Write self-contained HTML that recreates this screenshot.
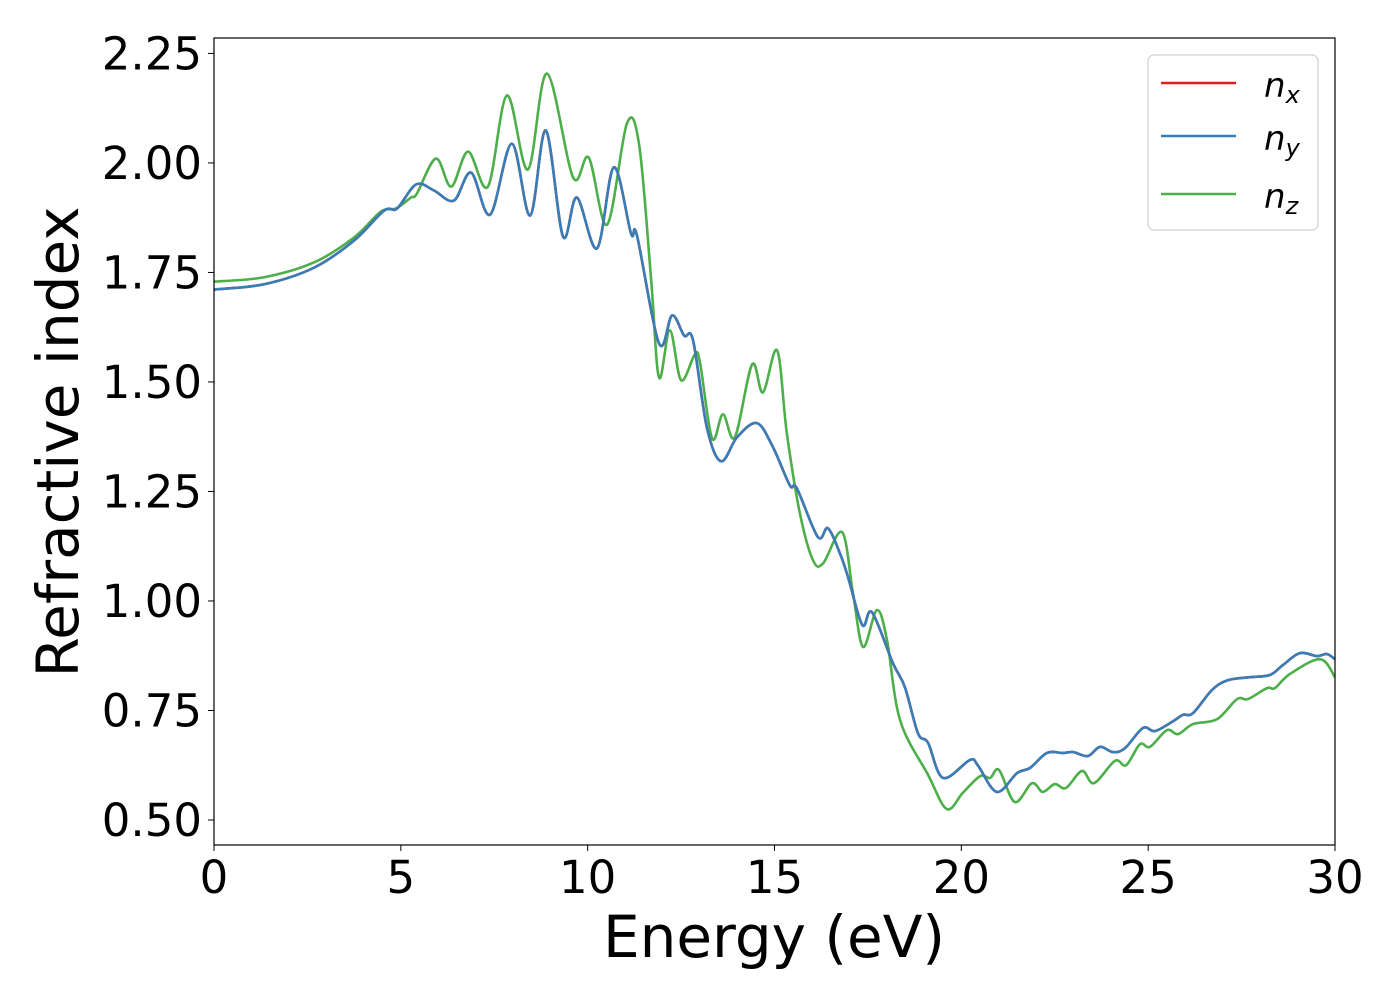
<!DOCTYPE html>
<html><head><meta charset="utf-8"><style>
body{margin:0;background:#fff;}
svg text{font-family:"DejaVu Sans","Liberation Sans",sans-serif;fill:#000;}
</style></head><body>
<svg id="chart" width="1400" height="1000" viewBox="0 0 1400 1000" xmlns="http://www.w3.org/2000/svg">
<rect x="0" y="0" width="1400" height="1000" fill="#fff"/>
<g id="series"></g>
<rect x="214" y="38" width="1121" height="807" fill="none" stroke="#000" stroke-width="1.2"/>
<g id="axes"></g>
<text x="774" y="957" font-size="58" text-anchor="middle">Energy (eV)</text>
<text x="0" y="0" font-size="58" text-anchor="middle" transform="translate(78,442) rotate(-90)">Refractive index</text>
<g>
<rect x="1148" y="55" width="170" height="175" rx="6" fill="#fff" stroke="#d0d0d0" stroke-width="1.2"/>
<line x1="1161" y1="83" x2="1236" y2="83" stroke="#e41a1c" stroke-width="2.5"/>
<text x="1264" y="97" font-size="34" font-style="italic">n<tspan font-size="24" dy="6">x</tspan></text>
<line x1="1161" y1="136" x2="1236" y2="136" stroke="#377eb8" stroke-width="2.5"/>
<text x="1264" y="150" font-size="34" font-style="italic">n<tspan font-size="24" dy="6">y</tspan></text>
<line x1="1161" y1="194" x2="1236" y2="194" stroke="#4daf4a" stroke-width="2.5"/>
<text x="1264" y="208" font-size="34" font-style="italic">n<tspan font-size="24" dy="6">z</tspan></text>
</g>
</svg>
<script>
const xTicks = [0, 5, 10, 15, 20, 25, 30];
const yTicks = [0.50, 0.75, 1.00, 1.25, 1.50, 1.75, 2.00, 2.25];
const energyY = [0,1.34,2.68,3.75,4.55,4.90,5.41,5.89,6.42,6.88,7.39,7.97,8.46,8.88,9.34,9.71,10.25,10.70,11.16,11.32,11.91,12.26,12.58,12.82,13.19,13.57,14.00,14.53,14.96,15.41,15.60,16.16,16.43,16.75,16.97,17.35,17.61,18.17,18.49,18.84,19.11,19.51,20.23,20.44,20.95,21.49,21.84,22.29,22.72,22.99,23.39,23.71,24.06,24.38,24.86,25.18,25.64,25.93,26.20,26.71,27.13,27.72,28.26,28.61,29.06,29.52,29.78,30.0];
const ny = [1.711,1.723,1.761,1.823,1.891,1.896,1.951,1.937,1.914,1.978,1.882,2.044,1.880,2.074,1.832,1.921,1.805,1.990,1.839,1.834,1.588,1.652,1.606,1.595,1.396,1.319,1.374,1.406,1.351,1.264,1.257,1.146,1.166,1.109,1.054,0.945,0.974,0.858,0.803,0.698,0.676,0.596,0.637,0.625,0.564,0.607,0.619,0.653,0.653,0.655,0.646,0.667,0.655,0.664,0.710,0.703,0.724,0.740,0.744,0.797,0.819,0.826,0.831,0.854,0.881,0.874,0.879,0.867];
const nx = ny.slice();
const energyZ = [0,1.34,2.68,3.75,4.47,4.87,5.27,5.43,5.94,6.35,6.80,7.33,7.84,8.40,8.91,9.61,10.03,10.52,11.05,11.38,11.70,11.91,12.20,12.50,12.87,13.01,13.33,13.62,13.94,14.40,14.69,15.07,15.33,15.68,16.03,16.30,16.81,17.10,17.37,17.74,18.01,18.36,19.11,19.61,20.04,20.50,20.77,21.01,21.43,21.89,22.18,22.50,22.80,23.23,23.55,24.11,24.41,24.78,25.05,25.50,25.80,26.20,26.84,27.38,27.67,28.18,28.39,28.79,29.60,30.0];
const nz = [1.729,1.739,1.773,1.830,1.889,1.896,1.921,1.930,2.010,1.946,2.026,1.946,2.154,1.985,2.204,1.967,2.012,1.859,2.090,2.040,1.732,1.510,1.618,1.504,1.563,1.542,1.371,1.426,1.374,1.540,1.476,1.572,1.383,1.200,1.093,1.086,1.157,1.018,0.895,0.979,0.911,0.728,0.603,0.525,0.562,0.600,0.596,0.614,0.541,0.584,0.564,0.582,0.573,0.612,0.584,0.635,0.625,0.673,0.667,0.705,0.696,0.719,0.730,0.776,0.776,0.801,0.801,0.833,0.867,0.826];

const NS = 'http://www.w3.org/2000/svg';
const X0 = 214, X1 = 1335, Y0 = 38, Y1 = 845;
const xMin = 0, xMax = 30, yMin = 0.4429, yMax = 2.2852;
function xs(v){ return X0 + (v - xMin) / (xMax - xMin) * (X1 - X0); }
function ys(v){ return Y1 - (v - yMin) / (yMax - yMin) * (Y1 - Y0); }

function smoothPath(xa, ya){
  const p = xa.map((x,i)=>[xs(x), ys(ya[i])]);
  let d = 'M' + p[0][0].toFixed(2) + ',' + p[0][1].toFixed(2);
  for (let i = 0; i < p.length - 1; i++){
    const p0 = p[Math.max(0,i-1)], p1 = p[i], p2 = p[i+1], p3 = p[Math.min(p.length-1,i+2)];
    const c1x = p1[0] + (p2[0]-p0[0])/6, c1y = p1[1] + (p2[1]-p0[1])/6;
    const c2x = p2[0] - (p3[0]-p1[0])/6, c2y = p2[1] - (p3[1]-p1[1])/6;
    d += ' C' + c1x.toFixed(2)+','+c1y.toFixed(2)+' '+c2x.toFixed(2)+','+c2y.toFixed(2)+' '+p2[0].toFixed(2)+','+p2[1].toFixed(2);
  }
  return d;
}

const series = document.getElementById('series');
function addLine(xa, ya, color, name){
  const path = document.createElementNS(NS, 'path');
  path.setAttribute('d', smoothPath(xa, ya));
  path.setAttribute('fill', 'none');
  path.setAttribute('stroke', color);
  path.setAttribute('stroke-width', '2.6');
  path.setAttribute('stroke-linejoin', 'round');
  
  
  series.appendChild(path);
}
const clip = document.createElementNS(NS, 'clipPath');
clip.setAttribute('id', 'plotclip');
const cr = document.createElementNS(NS, 'rect');
cr.setAttribute('x', X0); cr.setAttribute('y', Y0); cr.setAttribute('width', X1-X0); cr.setAttribute('height', Y1-Y0);
clip.appendChild(cr);
document.getElementById('chart').appendChild(clip);
series.setAttribute('clip-path', 'url(#plotclip)');
addLine(energyZ, nz, '#4daf4a', 'series-nz');
addLine(energyY, nx, '#e41a1c', 'series-nx');
addLine(energyY, ny, '#377eb8', 'series-ny');

const axes = document.getElementById('axes');
xTicks.forEach(v => {
  const t = document.createElementNS(NS, 'line');
  t.setAttribute('x1', xs(v)); t.setAttribute('x2', xs(v));
  t.setAttribute('y1', Y1); t.setAttribute('y2', Y1 + 6);
  t.setAttribute('stroke', '#000');
  
  
  axes.appendChild(t);
  const lb = document.createElementNS(NS, 'text');
  lb.setAttribute('x', xs(v)); lb.setAttribute('y', Y1 + 48);
  lb.setAttribute('font-size', '45'); lb.setAttribute('text-anchor', 'middle');
  lb.textContent = String(v);
  
  
  axes.appendChild(lb);
});
yTicks.forEach(v => {
  const t = document.createElementNS(NS, 'line');
  t.setAttribute('x1', X0 - 6); t.setAttribute('x2', X0);
  t.setAttribute('y1', ys(v)); t.setAttribute('y2', ys(v));
  t.setAttribute('stroke', '#000');
  
  
  axes.appendChild(t);
  const lb = document.createElementNS(NS, 'text');
  lb.setAttribute('x', X0 - 12); lb.setAttribute('y', ys(v) + 16);
  lb.setAttribute('font-size', '45'); lb.setAttribute('text-anchor', 'end');
  lb.textContent = v.toFixed(2);
  
  
  axes.appendChild(lb);
});
</script>
</body></html>
